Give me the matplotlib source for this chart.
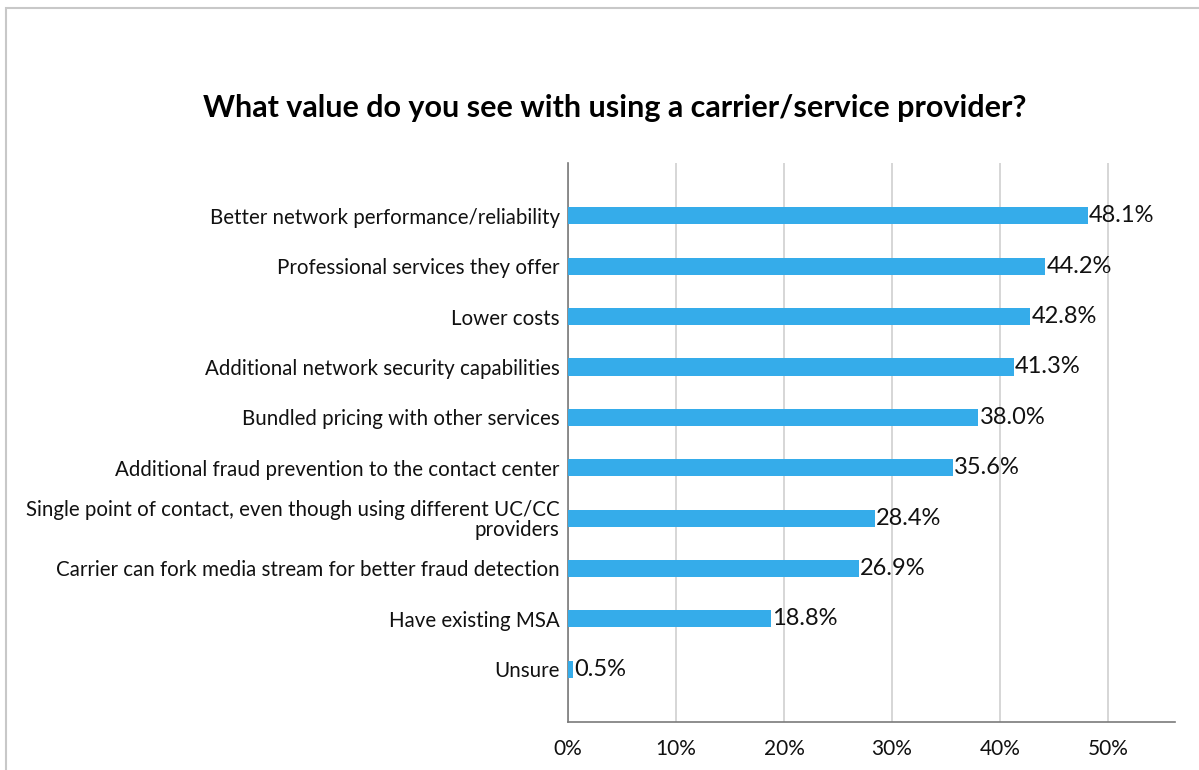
import matplotlib
matplotlib.use('Agg')
import matplotlib.pyplot as plt
from matplotlib.patches import Rectangle

plt.rcParams['font.family'] = ['Lato', 'DejaVu Sans']

# datos de la grafica
categorias = [
    'Better network performance/reliability',
    'Professional services they offer',
    'Lower costs',
    'Additional network security capabilities',
    'Bundled pricing with other services',
    'Additional fraud prevention to the contact center',
    'Single point of contact, even though using different UC/CC\nproviders',
    'Carrier can fork media stream for better fraud detection',
    'Have existing MSA',
    'Unsure',
]
valores = [48.1, 44.2, 42.8, 41.3, 38.0, 35.6, 28.4, 26.9, 18.8, 0.5]
ticks = [0, 10, 20, 30, 40, 50]
titulo = 'What value do you see with using a carrier/service provider?'

fig = plt.figure(figsize=(11.99, 7.7), dpi=100)
ax = fig.add_axes([0.4737, 0.0623, 0.5063, 0.726])

# borde del recuadro
fig.patches.append(Rectangle((6/1199, -0.1), 1.2, 1 - 8/770 + 0.1, transform=fig.transFigure,
                             fill=False, edgecolor='#c8c8c8', linewidth=1.5))

y = list(range(len(categorias)))
ax.barh(y, valores, height=0.34, color='#35ACEA', zorder=3)
for yi, v in zip(y, valores):
    ax.text(v + 0.1, yi, f'{v:.1f}%', va='center', ha='left', fontsize=17, color='#111111', zorder=4)

ax.set_yticks(y)
ax.set_yticklabels(categorias, fontsize=14.8, color='#111111', ha='right', multialignment='right',
                   linespacing=1.0)
ax.set_ylim(len(categorias) - 1 + 1.05, -1.05)
ax.set_xlim(0, 56.2)
ax.set_xticks(ticks)
ax.set_xticklabels([f'{t}%' for t in ticks], fontsize=15, color='#111111')
ax.tick_params(axis='both', length=0)
ax.tick_params(axis='x', pad=12)
ax.tick_params(axis='y', pad=6)
ax.grid(axis='x', color='#d0d0d0', linewidth=1.2, zorder=0)
ax.spines['top'].set_visible(False)
ax.spines['right'].set_visible(False)
ax.spines['left'].set_color('#7a7a7a')
ax.spines['bottom'].set_color('#7a7a7a')
ax.spines['left'].set_linewidth(1.2)
ax.spines['bottom'].set_linewidth(1.2)

fig.text(615/1199, 1 - 108/770, titulo, ha='center', va='center', fontsize=22, fontweight='bold', color='#000000')

fig.savefig('out.png', dpi=100)
